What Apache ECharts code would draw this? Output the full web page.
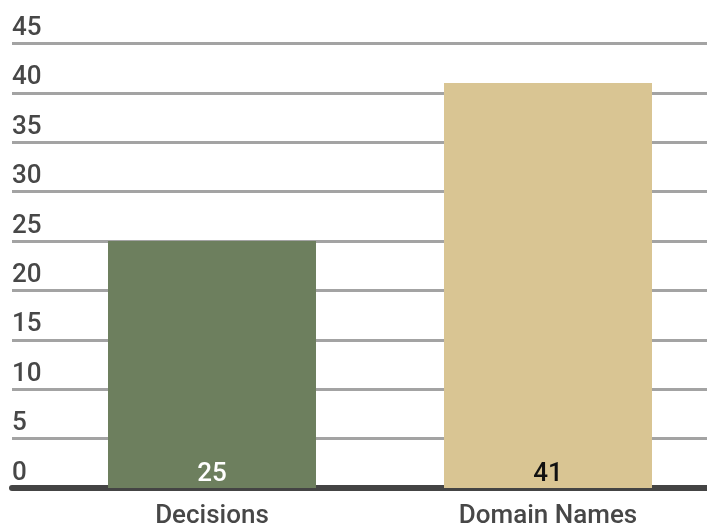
<!DOCTYPE html>
<html>
<head>
<meta charset="utf-8">
<script src="https://cdn.jsdelivr.net/npm/echarts@6/dist/echarts.min.js"></script>
<style>
  html, body { margin: 0; padding: 0; background: #fff; }
  #chart { width: 707px; height: 529px; }
</style>
</head>
<body>
<div id="chart"></div>
<script>
// chart data
var categories = ['Decisions', 'Domain Names'];
var counts = [25, 41];
var yTicks = [0, 5, 10, 15, 20, 25, 30, 35, 40, 45];

// styling
var barColors = ['#6d7f5e', '#d9c593'];
var labelColors = ['#ffffff', '#111111'];
var textColor = '#474747';
var font = 'Roboto';

var chart = echarts.init(document.getElementById('chart'));

chart.setOption({
  animation: false,
  grid: {
    left: 12,
    right: 0,
    top: 43.5,
    bottom: 39,
    containLabel: false
  },
  xAxis: {
    type: 'value',
    // category slots 0 and 1 sit 336px apart, first one at x=212
    min: -200 / 336,
    max: 495 / 336,
    offset: 3,
    axisLine: { show: true, lineStyle: { color: '#444444', width: 6 } },
    axisTick: { show: false },
    splitLine: { show: false },
    axisLabel: {
      customValues: [0, 1],
      formatter: function (v) { return categories[Math.round(v)]; },
      color: textColor,
      fontFamily: font,
      fontWeight: 500,
      fontSize: 26,
      margin: 12
    }
  },
  yAxis: {
    type: 'value',
    min: yTicks[0],
    max: yTicks[yTicks.length - 1],
    interval: yTicks[1] - yTicks[0],
    axisLine: { show: false },
    axisTick: { show: false },
    splitLine: {
      show: true,
      showMinLine: false,
      lineStyle: { color: '#a3a3a3', width: 3 }
    },
    axisLabel: {
      inside: true,
      margin: 0,
      align: 'left',
      verticalAlign: 'bottom',
      padding: [0, 0, 2, 0],
      color: textColor,
      fontFamily: font,
      fontWeight: 500,
      fontSize: 26
    }
  },
  series: [{
    type: 'bar',
    barWidth: 208,
    data: counts.map(function (v, i) {
      return {
        value: [i, v],
        itemStyle: { color: barColors[i] },
        label: { color: labelColors[i] }
      };
    }),
    label: {
      show: true,
      position: 'insideBottom',
      distance: 1,
      fontFamily: font,
      fontWeight: 500,
      fontSize: 26,
      formatter: function (p) { return p.value[1]; }
    }
  }]
});
</script>
</body>
</html>
